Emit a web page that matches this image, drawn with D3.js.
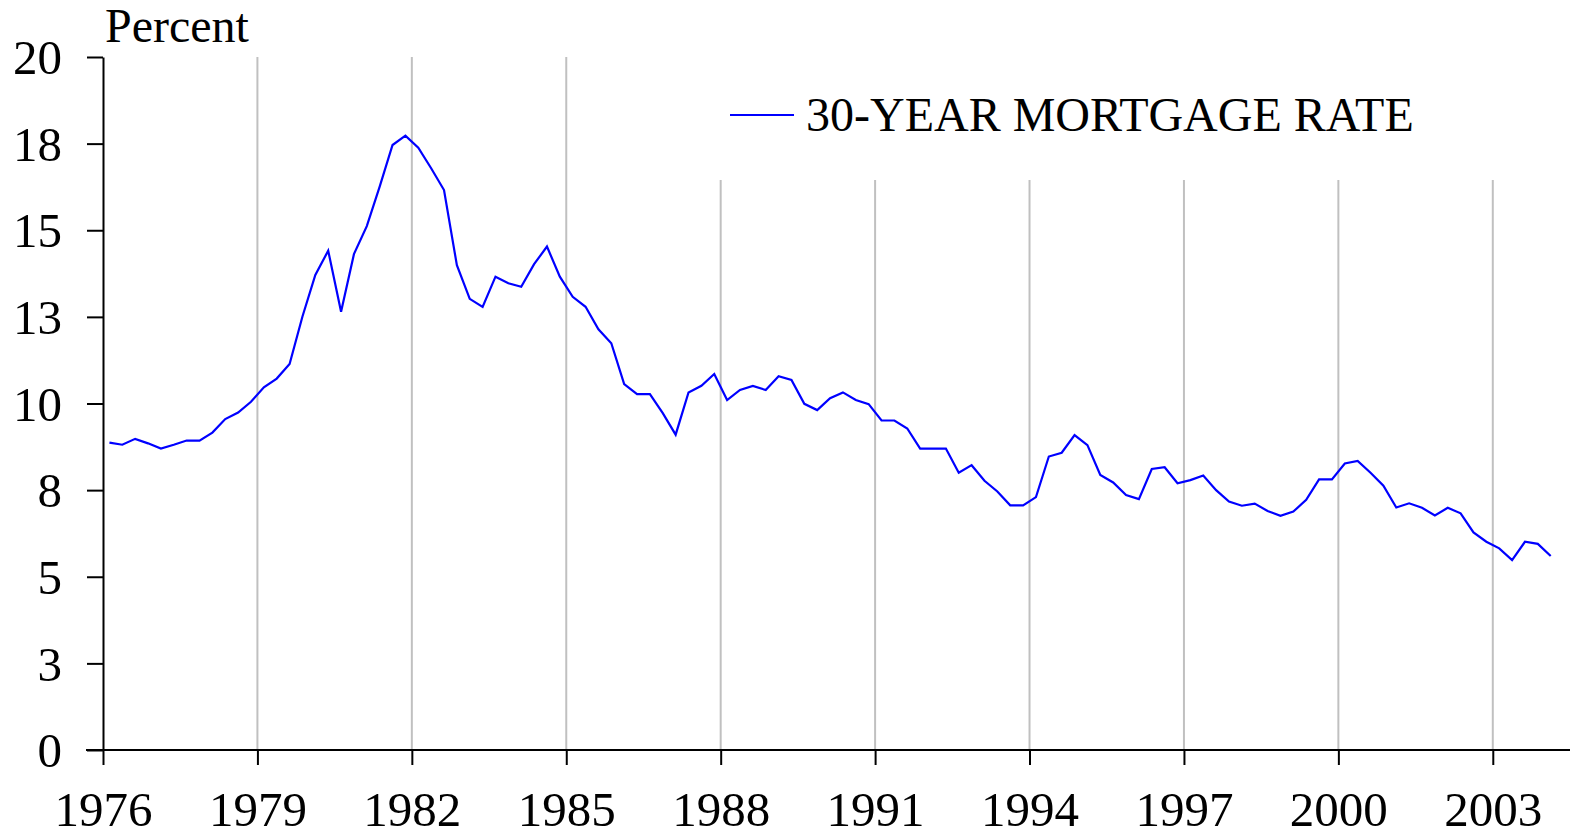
<!DOCTYPE html>
<html>
<head>
<meta charset="utf-8">
<script src="https://cdn.jsdelivr.net/npm/d3@7"></script>
<style>
  body { margin: 0; background: #fff; }
  text { font-family: "Liberation Serif", "Times New Roman", serif; fill: #000; }
</style>
</head>
<body>
<svg id="chart"></svg>
<script>
const WIDTH = 1581;
const HEIGHT = 838;
const FONT_SIZE = 48;
const TICK_FONT_SIZE = 49;

const START_YEAR = 1976;
const SERIES_NAME = "30-YEAR MORTGAGE RATE";
const Y_TITLE = "Percent";

// quarterly averages, 1976Q1 .. 2004Q1 (one row per year)
const rates = [
    8.87, 8.81, 8.98, 8.85,     // 1976
    8.70, 8.81, 8.93, 8.93,     // 1977
    9.16, 9.55, 9.74, 10.05,    // 1978
    10.47, 10.72, 11.14, 12.51, // 1979
    13.71, 14.41, 12.65, 14.31, // 1980
    15.12, 16.26, 17.46, 17.73, // 1981
    17.38, 16.79, 16.16, 13.99, // 1982
    13.02, 12.79, 13.66, 13.47, // 1983
    13.37, 14.02, 14.53, 13.66, // 1984
    13.08, 12.79, 12.14, 11.74, // 1985
    10.56, 10.27, 10.27, 9.72,  // 1986
    9.10, 10.32, 10.51, 10.85,  // 1987
    10.10, 10.39, 10.51, 10.39, // 1988
    10.79, 10.68, 9.99, 9.81,   // 1989
    10.15, 10.32, 10.10, 9.98,  // 1990
    9.51, 9.51, 9.28, 8.70,     // 1991
    8.70, 8.70, 8.00, 8.22,     // 1992
    7.77, 7.46, 7.06, 7.06,     // 1993
    7.30, 8.47, 8.58, 9.09,     // 1994
    8.80, 7.94, 7.72, 7.36,     // 1995
    7.24, 8.11, 8.16, 7.70,     // 1996
    7.79, 7.92, 7.50, 7.17,     // 1997
    7.05, 7.11, 6.90, 6.76,     // 1998
    6.88, 7.22, 7.81, 7.81,     // 1999
    8.27, 8.34, 8.00, 7.63,     // 2000
    7.00, 7.12, 6.99, 6.77,     // 2001
    6.99, 6.83, 6.28, 6.01,     // 2002
    5.82, 5.48, 6.01, 5.95,     // 2003
    5.60                        // 2004
];

const xTickYears = [1976, 1979, 1982, 1985, 1988, 1991, 1994, 1997, 2000, 2003];
const yTickValues = [0, 2.5, 5, 7.5, 10, 12.5, 15, 17.5, 20];
const yTickLabels = ["0", "3", "5", "8", "10", "13", "15", "18", "20"];

// each point sits in the middle of its quarter
const points = rates.map((r, i) => ({ t: START_YEAR + i / 4 + 0.125, v: r }));

const svg = d3.select("#chart")
    .attr("width", WIDTH)
    .attr("height", HEIGHT);

const x = d3.scaleLinear()
    .domain([1976, 2004.5])
    .range([103, 1570]);

const y = d3.scaleLinear()
    .domain([0, 20])
    .range([750, 57]);

// gridlines - the ones under the legend are cut short
const LEGEND_BOTTOM = 180;
svg.append("g")
    .selectAll("line")
    .data(xTickYears.filter(d => d > 1976))
    .enter()
    .append("line")
    .attr("x1", d => x(d))
    .attr("x2", d => x(d))
    .attr("y1", d => d < 1988 ? y(20) : LEGEND_BOTTOM)
    .attr("y2", y(0))
    .attr("stroke", "#c0c0c0")
    .attr("stroke-width", 2);

// y axis
const yAxis = svg.append("g")
    .attr("transform", `translate(${x(1976)},0)`)
    .call(d3.axisLeft(y)
        .tickValues(yTickValues)
        .tickSize(16)
        .tickSizeOuter(0)
        .tickFormat((d, i) => yTickLabels[i]));

yAxis.select(".domain").attr("stroke", "#000").attr("stroke-width", 2);
yAxis.selectAll(".tick line").attr("stroke", "#000").attr("stroke-width", 2);
yAxis.selectAll(".tick text")
    .attr("x", -41)
    .attr("dy", "0.34em")
    .style("font-size", TICK_FONT_SIZE + "px")
    .style("font-family", "'Liberation Serif', serif");

// x axis
const xAxis = svg.append("g")
    .attr("transform", `translate(0,${y(0)})`)
    .call(d3.axisBottom(x)
        .tickValues(xTickYears)
        .tickSize(15)
        .tickSizeOuter(0)
        .tickFormat(d3.format("d")));

xAxis.select(".domain")
    .attr("d", `M${x(1976) - 17},0H${x(2004.5)}`)
    .attr("stroke", "#000")
    .attr("stroke-width", 2);
xAxis.selectAll(".tick line").attr("stroke", "#000").attr("stroke-width", 2);
xAxis.selectAll(".tick text")
    .attr("y", 76)
    .attr("dy", 0)
    .style("font-size", TICK_FONT_SIZE + "px")
    .style("font-family", "'Liberation Serif', serif");

// the series
const line = d3.line()
    .x(d => x(d.t))
    .y(d => y(d.v));

svg.append("path")
    .datum(points)
    .attr("fill", "none")
    .attr("stroke", "#0000ff")
    .attr("stroke-width", 2.2)
    .attr("stroke-linejoin", "miter")
    .attr("d", line);

// y title
svg.append("text")
    .attr("x", 105)
    .attr("y", 42)
    .style("font-size", FONT_SIZE + "px")
    .text(Y_TITLE);

// legend
const legend = svg.append("g").attr("transform", "translate(730,115)");
legend.append("line")
    .attr("x1", 0)
    .attr("x2", 64)
    .attr("stroke", "#0000ff")
    .attr("stroke-width", 2);
legend.append("text")
    .attr("x", 76)
    .attr("y", 16)
    .style("font-size", FONT_SIZE + "px")
    .text(SERIES_NAME);
</script>
</body>
</html>
